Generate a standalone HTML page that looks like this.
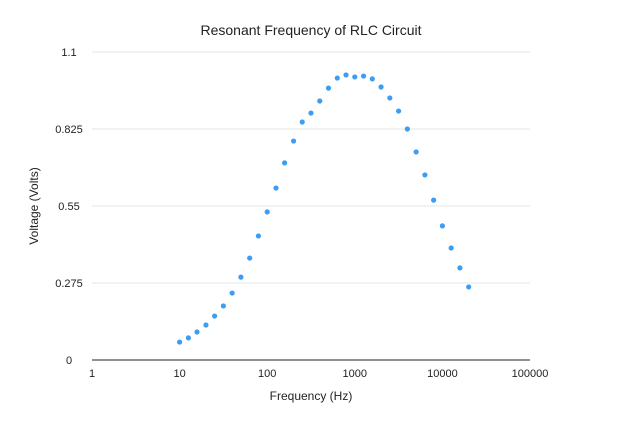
<!DOCTYPE html>
<html><head><meta charset="utf-8"><style>
body{margin:0;background:#fff;font-family:"Liberation Sans",sans-serif;}
svg text{font-family:"Liberation Sans",sans-serif;fill:#222;}
</style></head><body>
<svg id="chart" width="618" height="432"></svg>
<script>
const freqs=[10,12.6,15.8,20,25.1,31.6,39.8,50.1,63.1,79.4,100,126,158,200,251,316,398,501,631,794,1000,1259,1585,1995,2512,3162,3981,5012,6310,7943,10000,12589,15849,19953];
const volts=[0.064,0.079,0.1,0.125,0.157,0.193,0.239,0.296,0.364,0.443,0.529,0.614,0.704,0.782,0.85,0.882,0.925,0.971,1.007,1.018,1.011,1.014,1.004,0.975,0.936,0.889,0.825,0.743,0.661,0.571,0.479,0.4,0.329,0.261];
const xTicks=[1,10,100,1000,10000,100000];
const xTickLabels=["1","10","100","1000","10000","100000"];
const yTicks=[0,0.275,0.55,0.825,1.1];
const yTickLabels=["0","0.275","0.55","0.825","1.1"];
const NS="http://www.w3.org/2000/svg";
const svg=document.getElementById('chart');
const L=92,R=530,T=52,B=360;
const xs=v=>L+(Math.log10(v)-0)/5*(R-L);
const ys=v=>B-v/1.1*(B-T);
function mk(tag,attrs,parent){const e=document.createElementNS(NS,tag);for(const k in attrs)e.setAttribute(k,attrs[k]);(parent||svg).appendChild(e);return e;}
yTicks.forEach((t,i)=>{
  if(t>0){const g=mk('line',{x1:L,x2:R,y1:ys(t),y2:ys(t),stroke:'#e4e4e4','stroke-width':1});
  
  }
  const tx=mk('text',{x:69,y:ys(t)+4,'text-anchor':'middle','font-size':11});
  tx.textContent=yTickLabels[i];
  
  
});
xTicks.forEach((t,i)=>{
  const tx=mk('text',{x:xs(t),y:B+17,'text-anchor':'middle','font-size':11});
  tx.textContent=xTickLabels[i];
  
  
});
const ax=mk('line',{x1:L,x2:R,y1:B,y2:B,stroke:'#222','stroke-width':1});


freqs.forEach((f,i)=>{
  const c=mk('circle',{cx:xs(f),cy:ys(volts[i]),r:2.6,fill:'#3d9df3'});
  
  
});
const ti=mk('text',{x:311,y:35,'text-anchor':'middle','font-size':14});
ti.textContent='Resonant Frequency of RLC Circuit';


const xt=mk('text',{x:311,y:400,'text-anchor':'middle','font-size':12});
xt.textContent='Frequency (Hz)';


const yt=mk('text',{x:0,y:0,'text-anchor':'middle','font-size':12,transform:'translate(38,206) rotate(-90)'});
yt.textContent='Voltage (Volts)';


</script>
</body></html>
